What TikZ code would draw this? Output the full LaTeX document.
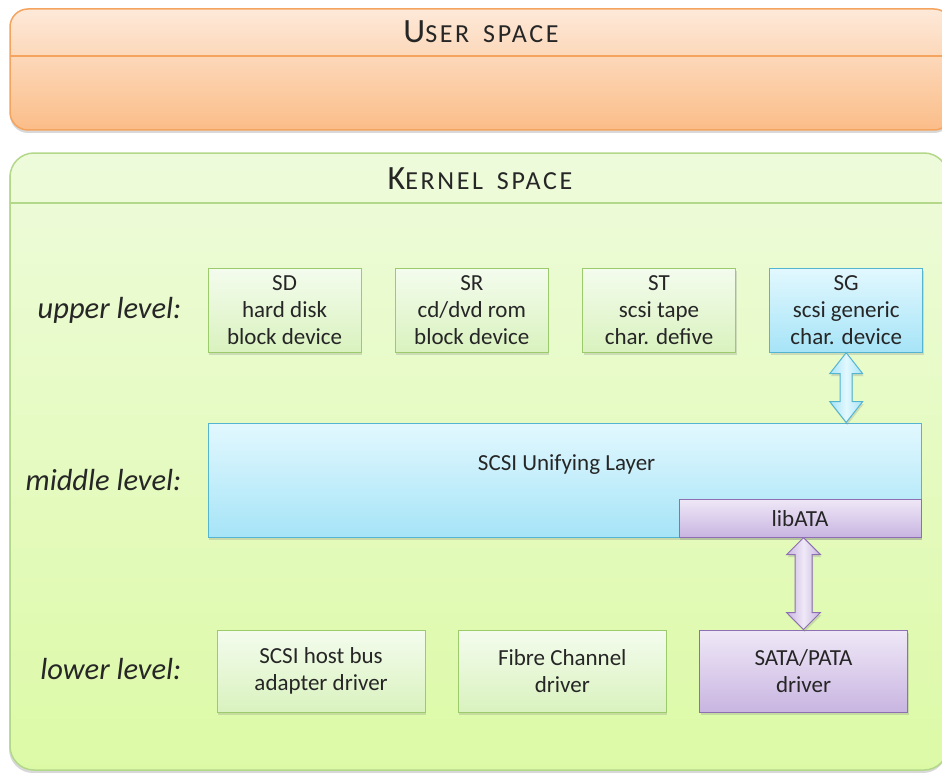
\documentclass[tikz,border=0pt]{standalone}
\usepackage{fontspec}
\setmainfont{Carlito}
\newfontfamily\titlefont[LetterSpace=10]{Carlito}
\usetikzlibrary{positioning,shadows,calc}
\definecolor{txt}{HTML}{262626}
\definecolor{usertop}{HTML}{FDE9D9}
\definecolor{userbot}{HTML}{FBBD88}
\definecolor{userline}{HTML}{F5A45F}
\definecolor{kerntop}{HTML}{EEFBDB}
\definecolor{kernbot}{HTML}{DCFAA6}
\definecolor{kernline}{HTML}{B3D88A}
\definecolor{greentop}{HTML}{F4FCEE}
\definecolor{greenbot}{HTML}{D9F2BE}
\definecolor{greenline}{HTML}{9CCB6B}
\definecolor{bluetop}{HTML}{E2F8FE}
\definecolor{bluebot}{HTML}{A6E4F7}
\definecolor{blueline}{HTML}{55B4D0}
\definecolor{purptop}{HTML}{EFE8F7}
\definecolor{purpbot}{HTML}{C9B5E1}
\definecolor{purpline}{HTML}{8D6FB2}
\tikzset{
  boxtext/.style={align=center,font=\fontsize{23}{27}\selectfont,text=txt,inner sep=0pt},
  boxshadow/.style={drop shadow={opacity=0.25,shadow xshift=1pt,shadow yshift=-2.5pt}},
  greenbox/.style={boxtext,boxshadow,draw=greenline,line width=1.2pt,top color=greentop,bottom color=greenbot},
  bluebox/.style={boxtext,boxshadow,draw=blueline,line width=1.2pt,top color=bluetop,bottom color=bluebot},
  purplebox/.style={boxtext,boxshadow,draw=purpline,line width=1.2pt,top color=purptop,bottom color=purpbot},
  levellabel/.style={font=\fontsize{30.5}{30}\selectfont\itshape,text=txt,inner sep=0pt,anchor=east},
  spacetitle/.style={font={\titlefont\fontsize{26}{26}\selectfont},text=txt,inner sep=0pt,anchor=base},
  bluearrow/.style={draw=blueline,line width=1pt,left color=bluebot,right color=bluebot,middle color=bluetop,boxshadow},
  purplearrow/.style={draw=purpline,line width=1pt,left color=purpbot,right color=purpbot,middle color=purptop,boxshadow}
}
% #1 style, #2 top end, #3 bottom end, #4 half shaft, #5 half head, #6 head length
\newcommand{\bothway}[6]{\draw[#1] let \p1=#2, \p2=#3 in
  (\x1,\y1) -- (\x1+#5,\y1-#6) -- (\x1+#4,\y1-#6) -- (\x1+#4,\y2+#6) -- (\x1+#5,\y2+#6)
  -- (\x1,\y2) -- (\x1-#5,\y2+#6) -- (\x1-#4,\y2+#6) -- (\x1-#4,\y1-#6) -- (\x1-#5,\y1-#6) -- cycle;}
\begin{document}
\begin{tikzpicture}[x=1pt,y=-1pt]
\useasboundingbox[fill=white] (0,0) rectangle (942,773);
\draw[rounded corners=18,line width=1.5pt,draw=userline,top color=usertop,bottom color=userbot,
  drop shadow={opacity=0.3,shadow xshift=0pt,shadow yshift=-3pt}] (10,9) rectangle (952,130);
\draw[userline,line width=1.5pt] (10,56) -- (942,56);
\node[spacetitle] (usertitle) at (481,43) {{\fontsize{34}{34}\selectfont U}SER\hspace{14pt}SPACE};
\draw[rounded corners=24,line width=1.5pt,draw=kernline,top color=kerntop,bottom color=kernbot,
  drop shadow={opacity=0.3,shadow xshift=-1pt,shadow yshift=-3pt}] (10,153) rectangle (948,770);
\draw[kernline,line width=1.5pt] (10,203) -- (942,203);
\node[spacetitle] (kerntitle) at (480,189) {{\fontsize{34}{34}\selectfont K}ERNEL\hspace{14pt}SPACE};
% upper level
\node[greenbox,minimum width=153,minimum height=84,anchor=north west] (sd) at (207.5,267.5) {SD\\hard disk\\block device};
\node[greenbox,minimum width=153,minimum height=84,right=33pt of sd] (sr) {SR\\cd/dvd rom\\block device};
\node[greenbox,minimum width=153,minimum height=84,right=33pt of sr] (st) {ST\\scsi tape\\char. defive};
\node[bluebox,minimum width=153,minimum height=84,right=33pt of st] (sg) {SG\\scsi generic\\char. device};
% middle level
\node[bluebox,minimum width=713,minimum height=114,anchor=north west] (mid) at (207.5,422.5) {};
\node[boxtext] (midtext) at ($(mid.north)+(2,42)$) {SCSI Unifying Layer};
\node[purplebox,minimum width=242,minimum height=38,anchor=south east] (lib) at (mid.south east) {libATA};
% lower level
\node[greenbox,minimum width=208,minimum height=82,anchor=north west] (hba) at (216.5,629.5) {SCSI host bus\\adapter driver};
\node[greenbox,minimum width=208,minimum height=82,right=32pt of hba] (fc) {Fibre Channel\\driver};
\node[purplebox,minimum width=208,minimum height=82,right=32pt of fc] (sata) {SATA/PATA\\driver};
\node[levellabel,left=26pt of sd] (up) {upper level:};
\node[levellabel,left=26pt of mid] (md) {middle level:};
\node[levellabel,left=35pt of hba,yshift=2pt] (lo) {lower level:};
\bothway{bluearrow}{(sg.south)}{(sg.south |- mid.north)}{6}{16.5}{21}
\bothway{purplearrow}{(lib.south -| sata.north)}{(sata.north)}{8.5}{17}{17}
\end{tikzpicture}
\end{document}
